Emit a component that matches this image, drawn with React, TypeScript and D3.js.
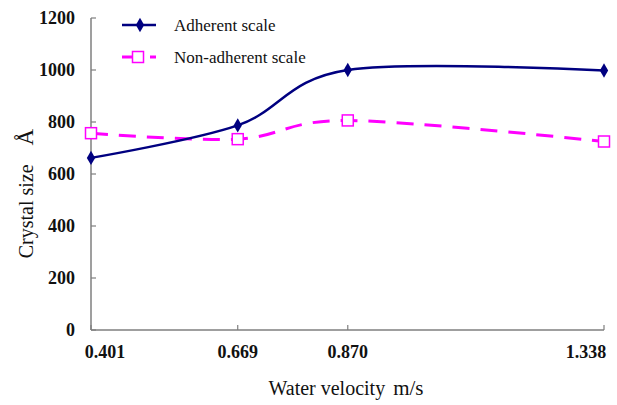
import React from "react";
import * as d3 from "d3";

const velocities = [0.401, 0.669, 0.87, 1.338];
const velocityLabels = ["0.401", "0.669", "0.870", "1.338"];
const adherent = [662, 787, 1000, 998];
const nonAdherent = [757, 734, 806, 725];
const yTicks = [0, 200, 400, 600, 800, 1000, 1200];

const W = 617;
const H = 405;
const FONT = "'Liberation Serif', 'Times New Roman', serif";

const App: React.FC = () => {
  const x = d3.scaleLinear().domain([0.401, 1.338]).range([91, 604]);
  const y = d3.scaleLinear().domain([0, 1200]).range([330, 18]);

  const line = d3
    .line<number>()
    .x((_, i) => x(velocities[i]))
    .y((d) => y(d))
    .curve(d3.curveCardinal.tension(0));

  const diamond = d3.symbol(d3.symbolDiamond, 60)();
  const axisColor = "#7f7f7f";

  return (
    <svg
      width={W}
      height={H}
      style={{ position: "absolute", left: 0, top: 0, background: "#fff" }}
      fontFamily={FONT}
    >
      {/* axes */}
      <line x1={x(0.401)} x2={x(0.401)} y1={y(1200)} y2={y(0)} stroke={axisColor} strokeWidth={1.5} />
      <line x1={x(0.401)} x2={x(1.338)} y1={y(0)} y2={y(0)} stroke={axisColor} strokeWidth={1.5} />
      {yTicks.map((t) => (
        <g key={t}>
          <line x1={x(0.401)} x2={x(0.401) + 5} y1={y(t)} y2={y(t)} stroke={axisColor} strokeWidth={1.2} />
          <text
            x={x(0.401) - 16}
            y={y(t)}
            dy="0.36em"
            textAnchor="end"
            fontSize={18}
            fontWeight="bold"
            fill="#111"
          >
            {t}
          </text>
        </g>
      ))}
      {velocities.map((v, i) => (
        <g key={v}>
          <line x1={x(v)} x2={x(v)} y1={y(0)} y2={y(0) - 5} stroke={axisColor} strokeWidth={1.2} />
          <text
            x={Math.min(Math.max(x(v), 105), 586)}
            y={y(0) + 28}
            textAnchor="middle"
            fontSize={18}
            fontWeight="bold"
            fill="#111"
          >
            {velocityLabels[i]}
          </text>
        </g>
      ))}

      {/* axis titles */}
      <text x={346} y={395} textAnchor="middle" fontSize={20} fill="#111">
        Water velocity <tspan dx={3} fontSize={21}>m/s</tspan>
      </text>
      <text
        transform={`translate(33,${y(525)}) rotate(-90)`}
        textAnchor="middle"
        fontSize={20}
        fill="#111"
      >
        Crystal size <tspan dx={14} fontSize={23}>Å</tspan>
      </text>

      {/* series */}
      <path d={line(nonAdherent) || ""} fill="none" stroke="#ff00ff" strokeWidth={3} strokeDasharray="17,11" />
      <path d={line(adherent) || ""} fill="none" stroke="#000080" strokeWidth={2.5} />
      {adherent.map((d, i) => (
        <path key={i} d={diamond || ""} transform={`translate(${x(velocities[i])},${y(d)})`} fill="#000080" />
      ))}
      {nonAdherent.map((d, i) => (
        <rect
          key={i}
          x={x(velocities[i]) - 5.5}
          y={y(d) - 5.5}
          width={11}
          height={11}
          fill="#fff"
          stroke="#ff00ff"
          strokeWidth={1.5}
        />
      ))}

      {/* legend */}
      <g>
        <line x1={122} x2={156} y1={25} y2={25} stroke="#000080" strokeWidth={2.5} />
        <path d={diamond || ""} transform="translate(140,25)" fill="#000080" />
        <text x={174} y={25} dy="0.35em" fontSize={17} fill="#111">
          Adherent scale
        </text>
        <line x1={122} x2={156} y1={57} y2={57} stroke="#ff00ff" strokeWidth={3} strokeDasharray="17,11" />
        <rect x={132.5} y={51.5} width={11} height={11} fill="#fff" stroke="#ff00ff" strokeWidth={1.5} />
        <text x={174} y={57} dy="0.35em" fontSize={17} fill="#111">
          Non-adherent scale
        </text>
      </g>
    </svg>
  );
};

export default App;
